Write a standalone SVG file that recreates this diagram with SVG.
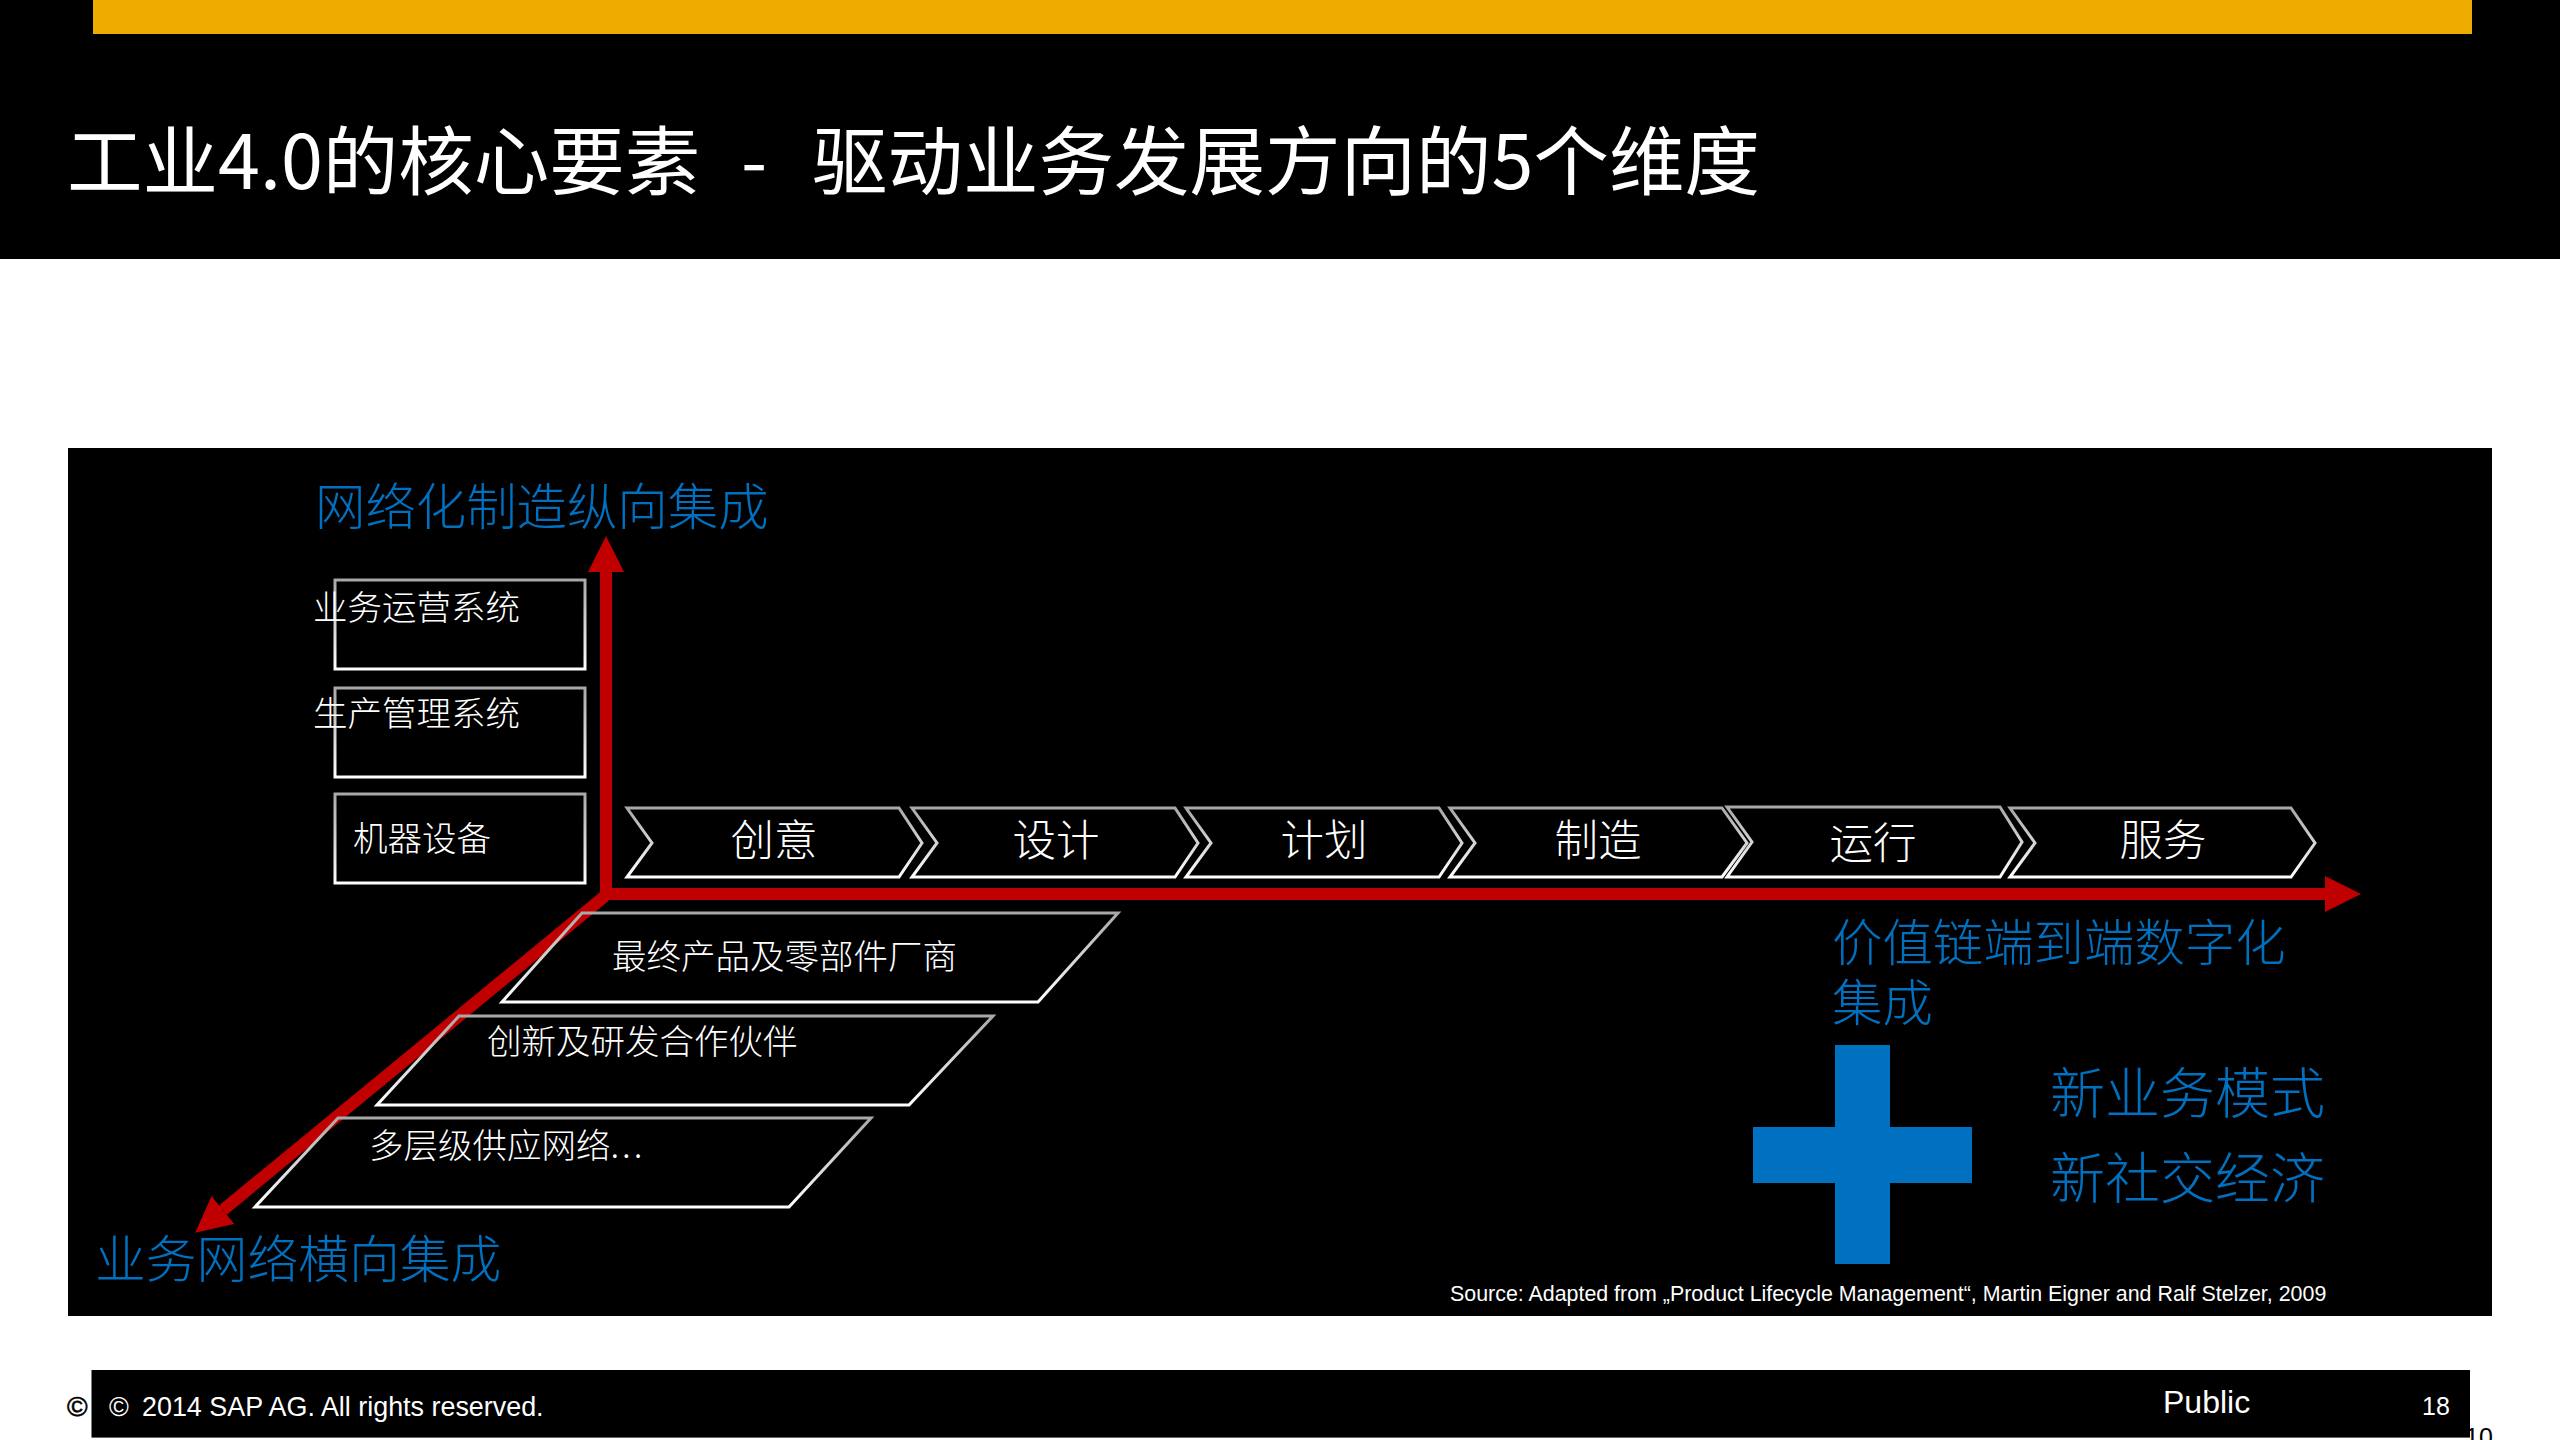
<svg xmlns="http://www.w3.org/2000/svg" width="2560" height="1440" viewBox="0 0 2560 1440">
<style>
text{font-family:"Liberation Sans","Noto Sans CJK SC",sans-serif}
.c{font-family:"Noto Sans CJK SC",sans-serif;font-weight:300}
.w{fill:#fff}
.s{font-size:34.5px}
.m{font-size:43.5px;text-anchor:middle}
.b{fill:#0070c0;font-size:50.4px}
.b2{fill:#0070c0;font-size:55px}
.box{fill:none;stroke:url(#bevel);stroke-width:3}
.axis{fill:none;stroke:#c00000;stroke-width:12}
</style>
<defs>
<linearGradient id="bevel" x1="0" y1="0" x2="0" y2="1"><stop offset="0" stop-color="#a8a8a8"/><stop offset="1" stop-color="#ffffff"/></linearGradient>
<marker id="head" markerUnits="userSpaceOnUse" markerWidth="36" markerHeight="36" refX="0" refY="18" orient="auto"><path d="M0,0L36,18L0,36z" fill="#c00000"/></marker>
</defs>
<rect width="2560" height="1440" fill="#fff"/>
<g id="header">
<rect width="2560" height="259" fill="#000"/>
<rect x="93" width="2379" height="34" fill="#f0ab00"/>
<text class="w" y="189" font-size="75.500" style="font-family:'Noto Sans CJK SC',sans-serif;font-weight:400"><tspan x="67">工业4.0的核心要素</tspan><tspan x="741">-</tspan><tspan x="812">驱动业务发展方向的5个维度</tspan></text>
</g>
<rect id="panel" x="68" y="448" width="2424" height="868" fill="#000"/>
<g id="connectors">
<line class="axis" x1="606" y1="900" x2="606" y2="572" marker-end="url(#head)"/>
<line class="axis" x1="600" y1="894" x2="2325" y2="894" marker-end="url(#head)"/>
<line class="axis" x1="605" y1="896" x2="223" y2="1210" marker-end="url(#head)"/>
</g>
<g id="layer-business"><rect class="box" x="335" y="580" width="250" height="89"/><text class="c w s" x="313" y="620">业务运营系统</text></g>
<g id="layer-production"><rect class="box" x="335" y="688" width="250" height="89"/><text class="c w s" x="313" y="726">生产管理系统</text></g>
<g id="layer-machine"><rect class="box" x="335" y="794" width="250" height="89"/><text class="c w s" x="353" y="851">机器设备</text></g>
<g id="step-1"><path class="box" d="M627,808H899L922,843L899,877H627L652,843Z"/><text class="c w m" x="774" y="856">创意</text></g>
<g id="step-2"><path class="box" d="M912,808H1175L1198,843L1175,877H912L937,843Z"/><text class="c w m" x="1056" y="856">设计</text></g>
<g id="step-3"><path class="box" d="M1186,808H1439L1462,843L1439,877H1186L1211,843Z"/><text class="c w m" x="1324" y="856">计划</text></g>
<g id="step-4"><path class="box" d="M1450,808H1722L1747,843L1722,877H1450L1475,843Z"/><text class="c w m" x="1598" y="856">制造</text></g>
<g id="step-5"><path class="box" d="M1727,807H2000L2022,842L2000,877H1727L1752,842Z"/><text class="c w m" x="1873" y="859">运行</text></g>
<g id="step-6"><path class="box" d="M2010,808H2291L2315,843L2291,877H2010L2035,843Z"/><text class="c w m" x="2163" y="856">服务</text></g>
<g id="tier-1"><path class="box" d="M582,913H1118L1038,1002H502Z"/><text class="c w s" x="612" y="969">最终产品及零部件厂商</text></g>
<g id="tier-2"><path class="box" d="M459,1016H993L909,1105H377Z"/><text class="c w s" x="487" y="1054">创新及研发合作伙伴</text></g>
<g id="tier-3"><path class="box" d="M338,1118H871L789,1207H255Z"/><text class="c w s" x="369" y="1158">多层级供应网络<tspan letter-spacing="3">...</tspan></text></g>
<text id="label-vertical" class="c b" x="315" y="525">网络化制造纵向集成</text>
<text id="label-horizontal" class="c b" x="95" y="1278" style="font-size:50.800px">业务网络横向集成</text>
<text id="label-value" class="c b"><tspan x="1832" y="961">价值链端到端数字化</tspan><tspan x="1832" y="1021">集成</tspan></text>
<path id="plus" d="M1835,1045H1890V1127H1972V1183H1890V1264H1835V1183H1753V1127H1835Z" fill="#0070c0"/>
<text id="label-new" class="c b2"><tspan x="2050" y="1113">新业务模式</tspan><tspan x="2050" y="1198">新社交经济</tspan></text>
<text id="source" class="w" x="1450" y="1301" font-size="21.4">Source: Adapted from „Product Lifecycle Management“, Martin Eigner and Ralf Stelzer, 2009</text>
<g id="footer">
<text x="2465" y="1446" font-size="25" fill="#000">10</text>
<text x="67" y="1416" font-size="28" fill="#000" stroke="#000" stroke-width=".6">©</text>
<rect x="91.500" y="1370" width="2378.500" height="67" fill="#000"/>
<rect x="91.500" y="1437" width="2378.500" height="1" fill="#666"/>
<text class="w" y="1416" font-size="26.9"><tspan x="109">©</tspan><tspan x="142">2014 SAP AG. All rights reserved.</tspan></text>
<text class="w" x="2163" y="1413" font-size="32">Public</text>
<text class="w" x="2422" y="1415" font-size="25">18</text>
</g>
</svg>
